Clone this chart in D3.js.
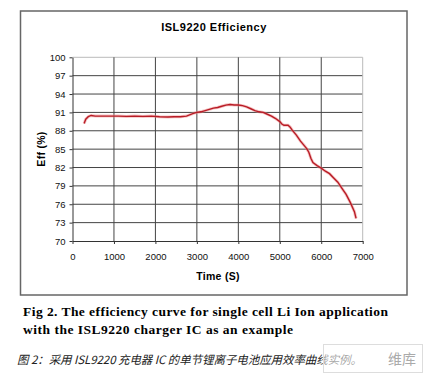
<!DOCTYPE html>
<html>
<head>
<meta charset="utf-8">
<script src="https://cdn.jsdelivr.net/npm/d3@7"></script>
<style>
  body { margin: 0; background: #fff; }
  svg { display: block; }
  .title { font-family: "Liberation Sans", Arial, sans-serif; font-weight: bold; font-size: 11px; letter-spacing: 0.5px; }
  .axis text { font-family: "Liberation Sans", Arial, sans-serif; font-size: 9.5px; fill: #111; }
  .lbl { font-family: "Liberation Sans", Arial, sans-serif; font-weight: bold; font-size: 10.5px; letter-spacing: 0.3px; }
  .cap { font-family: "Liberation Serif", "Times New Roman", serif; font-weight: bold; font-size: 13.5px; }
  .cn { font-family: "Noto Sans CJK SC", sans-serif; font-style: italic; font-size: 11.5px; fill: #222; }
</style>
</head>
<body>
<svg width="428" height="375"></svg>
<script>
var time = [280, 320, 380, 450, 550, 700, 900, 1100, 1300, 1500, 1700, 1900, 2100, 2300, 2450, 2600, 2750, 2900, 3000, 3100,
    3200, 3300, 3400, 3500, 3600, 3700, 3800, 3900, 4000, 4100, 4200, 4300, 4400, 4500, 4600, 4700, 4800, 4900, 5000, 5050,
    5100, 5200, 5250, 5300, 5400, 5500, 5600, 5650, 5700, 5750, 5800, 5900, 6000, 6100, 6200, 6300, 6400, 6500, 6600, 6700,
    6800, 6840];
var eff = [89.2, 89.9, 90.3, 90.5, 90.4, 90.4, 90.4, 90.4, 90.35, 90.4, 90.35, 90.4, 90.3, 90.25, 90.3, 90.3, 90.4, 90.8, 91.0, 91.1,
    91.3, 91.5, 91.7, 91.8, 92.0, 92.2, 92.3, 92.2, 92.2, 92.1, 91.9, 91.6, 91.3, 91.1, 91.0, 90.7, 90.4, 90.0, 89.5, 89.1,
    88.9, 88.9, 88.6, 88.1, 87.3, 86.3, 85.5, 85.1, 84.5, 83.5, 82.8, 82.3, 81.9, 81.4, 81.0, 80.3, 79.6, 78.6, 77.6, 76.3,
    74.8, 73.7];
var xTicks = [0, 1000, 2000, 3000, 4000, 5000, 6000, 7000];
var yTicks = [70, 73, 76, 79, 82, 85, 88, 91, 94, 97, 100];

var svg = d3.select("svg");

// outer chart frame
svg.append("rect")
    .attr("x", 20.5).attr("y", 11)
    .attr("width", 386.5).attr("height", 284)
    .attr("fill", "#fff")
    .attr("stroke", "#666")
    .attr("stroke-width", 1.5);

svg.append("text")
    .attr("class", "title")
    .attr("x", 214).attr("y", 31)
    .attr("text-anchor", "middle")
    .text("ISL9220 Efficiency");

var x = d3.scaleLinear().domain([0, 7000]).range([72.5, 362.7]);
var y = d3.scaleLinear().domain([70, 100]).range([241, 57.3]);

var g = svg.append("g");

// gridlines
g.selectAll(".hgrid")
    .data(yTicks.filter(function(d) { return d > 70; }))
    .enter().append("line")
    .attr("x1", x(0)).attr("x2", x(7000))
    .attr("y1", function(d) { return y(d); })
    .attr("y2", function(d) { return y(d); })
    .attr("stroke", function(d) { return d == 100 ? "#bbb" : "#444"; })
    .attr("stroke-width", 1);

g.selectAll(".vgrid")
    .data(xTicks.filter(function(d) { return d > 0; }))
    .enter().append("line")
    .attr("y1", y(70)).attr("y2", y(100))
    .attr("x1", function(d) { return x(d); })
    .attr("x2", function(d) { return x(d); })
    .attr("stroke", function(d) { return d == 7000 ? "#bbb" : "#444"; })
    .attr("stroke-width", 1);

// axes
g.append("g")
    .attr("class", "axis")
    .attr("transform", "translate(0," + y(70) + ")")
    .call(d3.axisBottom(x).tickValues(xTicks).tickFormat(d3.format("d")).tickSize(3).tickSizeOuter(0).tickPadding(9))
    .call(function(a) { a.selectAll("line, path").attr("stroke", "#333"); });

g.append("g")
    .attr("class", "axis")
    .attr("transform", "translate(" + x(0) + ",0)")
    .call(d3.axisLeft(y).tickValues(yTicks).tickSize(3).tickSizeOuter(0).tickPadding(4))
    .call(function(a) { a.selectAll("line, path").attr("stroke", "#333"); });

// curve
var pts = time.map(function(t, i) { return [t, eff[i]]; });
var line = d3.line()
    .x(function(d) { return x(d[0]); })
    .y(function(d) { return y(d[1]); });

g.append("path")
    .datum(pts)
    .attr("d", line)
    .attr("fill", "none")
    .attr("stroke", "#e88")
    .attr("stroke-opacity", 0.5)
    .attr("stroke-width", 3);

g.append("path")
    .datum(pts)
    .attr("d", line)
    .attr("fill", "none")
    .attr("stroke", "#b81c26")
    .attr("stroke-width", 1.4);

svg.append("text")
    .attr("class", "lbl")
    .attr("x", 218).attr("y", 280)
    .attr("text-anchor", "middle")
    .text("Time (S)");

svg.append("text")
    .attr("class", "lbl")
    .attr("transform", "translate(45,149) rotate(-90)")
    .attr("text-anchor", "middle")
    .text("Eff (%)");

// captions
svg.append("text")
    .attr("class", "cap")
    .attr("x", 23).attr("y", 316)
    .attr("textLength", 365)
    .text("Fig 2. The efficiency curve for single cell Li Ion application");

svg.append("text")
    .attr("class", "cap")
    .attr("x", 23).attr("y", 333.5)
    .attr("textLength", 270)
    .text("with the ISL9220 charger IC as an example");

svg.append("text")
    .attr("class", "cn")
    .attr("x", 17).attr("y", 364)
    .attr("textLength", 345)
    .text("图 2：采用 ISL9220 充电器 IC 的单节锂离子电池应用效率曲线实例。");

// watermark box
svg.append("rect")
    .attr("x", 323.5).attr("y", 344.5)
    .attr("width", 99).attr("height", 28)
    .attr("fill", "#fff").attr("fill-opacity", 0.6)
    .attr("stroke", "#ddd");

svg.append("text")
    .attr("x", 416).attr("y", 364)
    .attr("text-anchor", "end")
    .attr("font-family", "Noto Sans CJK SC, sans-serif")
    .attr("font-size", 14)
    .attr("fill", "#aaa")
    .text("维库");
</script>
</body>
</html>
